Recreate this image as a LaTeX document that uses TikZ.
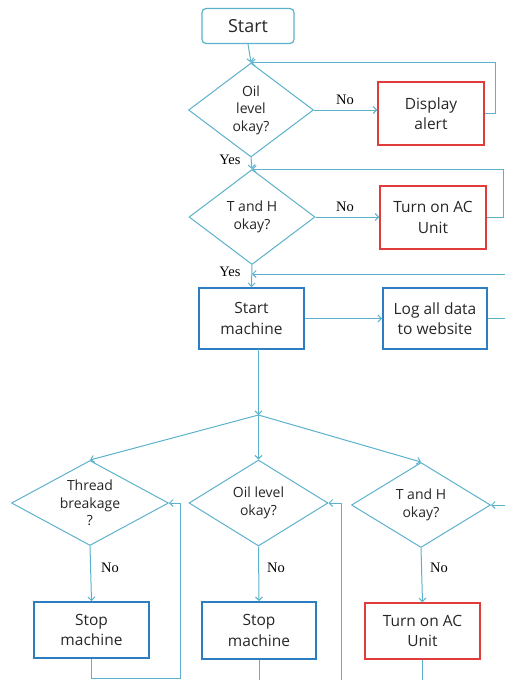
\documentclass[tikz,border=0pt]{standalone}
\usepackage{fontspec}
\setmainfont{Open Sans}
\newfontfamily\lblfont{Liberation Serif}
\usetikzlibrary{shapes.geometric,arrows.meta}
\definecolor{tealc}{RGB}{92,178,204}
\definecolor{bluec}{RGB}{45,125,195}
\definecolor{redc}{RGB}{225,60,60}
\tikzset{
  conn/.style={draw=tealc, line width=1pt},
  arr/.style={conn, -{Straight Barb[length=3.5pt,width=7pt]}},
  dec/.style={diamond, draw=tealc, line width=1pt, inner sep=0pt, align=center,
    font=\fontsize{14}{17.5}\selectfont, text=black!85},
  boxb/.style={rectangle, draw=bluec, line width=1.8pt, align=center,
    font=\fontsize{15.5}{20.5}\selectfont, text=black!85},
  boxr/.style={boxb, draw=redc, line width=1.5pt},
  startbox/.style={boxb, draw=tealc, line width=1.2pt, rounded corners=4pt,
    font=\fontsize{18}{22}\selectfont},
  lbl/.style={font=\lblfont\fontsize{14.5}{16}\selectfont, text=black}
}
\begin{document}
\begin{tikzpicture}[x=1pt,y=-1pt]
\useasboundingbox (0,0) rectangle (505,680);

% top nodes
\node[startbox, minimum width=92pt, minimum height=35pt] (start) at (248,26) {Start};
\node[dec, minimum width=125pt, minimum height=94pt, aspect=1.33] (d1) at (251,110) {Oil\\level\\okay?};
\node[boxr, minimum width=106pt, minimum height=63pt] (alert1) at (431,113.5) {Display\\alert};
\node[dec, minimum width=126pt, minimum height=95pt, aspect=1.33] (d2) at (252,217) {T and H\\okay?};
\node[boxr, minimum width=106pt, minimum height=63pt] (ac1) at (433,217.5) {Turn on AC\\Unit};
\node[boxb, minimum width=105pt, minimum height=61pt] (sm) at (251.5,318.5) {Start\\machine};
\node[boxb, minimum width=104pt, minimum height=61pt] (log) at (435,318.5) {Log all data\\to website};

% bottom nodes
\node[dec, minimum width=157pt, minimum height=85pt, aspect=1.85] (d3) at (90,503) {Thread\\breakage\\?};
\node[dec, minimum width=139pt, minimum height=86pt, aspect=1.6] (d4) at (258.5,503) {Oil level\\okay?};
\node[dec, minimum width=139pt, minimum height=85pt, aspect=1.6] (d5) at (421,505) {T and H\\okay?};
\node[boxb, minimum width=115pt, minimum height=56pt] (stop1) at (91.5,630) {Stop\\machine};
\node[boxb, minimum width=114pt, minimum height=57pt] (stop2) at (259,630.5) {Stop\\machine};
\node[boxr, minimum width=115pt, minimum height=56pt] (ac2) at (422.5,631) {Turn on AC\\Unit};

% labels
\node[lbl] (no1) at (345,100) {No};
\node[lbl] (no2) at (345,207) {No};
\node[lbl] (yes1) at (230,160) {Yes};
\node[lbl] (yes2) at (230,272) {Yes};
\node[lbl] (no3) at (110,568) {No};
\node[lbl] (no4) at (276,568) {No};
\node[lbl] (no5) at (439,568) {No};

% coordinates
\coordinate (r1) at (495,113.5);
\coordinate (r2) at (503,217.5);
\coordinate (r3a) at (505,318.5);
\coordinate (r3b) at (505,274);
\coordinate (j3) at (252,274);
\coordinate (smb) at (258.5,349);
\coordinate (j) at (258.5,415);
\coordinate (lb1) at (180,678);
\coordinate (e2) at (259,680);
\coordinate (lb2) at (341,680);
\coordinate (e3) at (422.5,680);
\coordinate (lb3) at (505,505);

% connectors top
\draw[arr] (start.south) -- (d1.north);
\draw[arr] (d1.east) -- (d1.east -| alert1.west);
\draw[arr] (alert1.east) -- (r1) |- (d1.north);
\draw[arr] (d1.south) -- (d2.north);
\draw[arr] (d2.east) -- (d2.east -| ac1.west);
\draw[arr] (ac1.east) -- (r2) |- (d2.north);
\draw[arr] (d2.south) -- (sm.north);
\draw[conn] (log.east) -- (r3a);
\draw[arr] (r3b) -- (j3);
\draw[arr] (sm.east) -- (log.west);

% connectors bottom
\draw[arr] (smb) -- (j);
\draw[arr] (j) -- (d3.north);
\draw[arr] (j) -- (d4.north);
\draw[arr] (j) -- (d5.north);
\draw[arr] (d3.south) -- (stop1.north);
\draw[arr] (d4.south) -- (stop2.north);
\draw[arr] (d5.south) -- (ac2.north);
\draw[arr] (stop1.south) |- (lb1) |- (d3.east);
\draw[conn] (stop2.south) -- (e2);
\draw[arr] (lb2) |- (d4.east);
\draw[conn] (ac2.south) -- (e3);
\draw[arr] (lb3) -- (d5.east);
\end{tikzpicture}
\end{document}
